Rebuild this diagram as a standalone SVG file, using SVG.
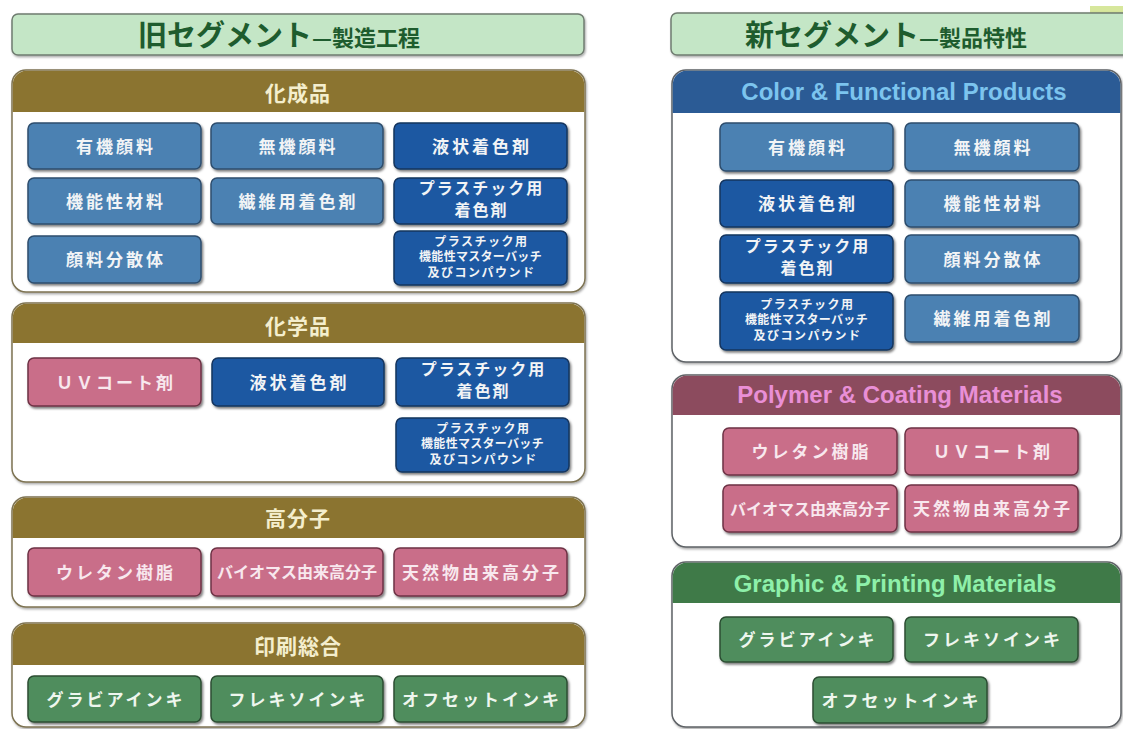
<svg xmlns="http://www.w3.org/2000/svg" width="1123" height="729" viewBox="0 0 1123 729">
<defs>
<filter id="sh" x="-10%" y="-15%" width="125%" height="145%"><feDropShadow dx="1.5" dy="2" stdDeviation="1" flood-color="#000" flood-opacity="0.5"/></filter>
<filter id="psh" x="-5%" y="-5%" width="110%" height="115%"><feDropShadow dx="1" dy="1.5" stdDeviation="1.2" flood-color="#000" flood-opacity="0.35"/></filter>
<style>
.jp{font-family:"Noto Sans CJK JP","Noto Sans CJK SC",sans-serif;font-weight:bold}
.en{font-family:"Liberation Sans",Arial,sans-serif;font-weight:bold}
.title rect{fill:#c4e6c6;stroke:#6f7c70;stroke-width:1.5;filter:url(#psh)}
.title text{fill:#1e5c2e}
.pl .body{fill:#fff;stroke:#7d7352;stroke-width:1.5;filter:url(#psh)}
.pr .body{fill:#fff;stroke:#5e6266;stroke-width:1.5;filter:url(#psh)}
.hb{fill:#8b7430}
.hbl{fill:#2b5b95}
.hpm{fill:#8c4b5e}
.hgr{fill:#3f7a48}
.ht{fill:#f4eecd;font-size:21px;letter-spacing:1px;text-anchor:middle}
.hte{font-size:24px;text-anchor:middle}
.box rect{stroke-width:1.5;filter:url(#sh)}
.box text{fill:#f2f4f6;font-size:17px;letter-spacing:3px;text-anchor:middle}
.steel rect{fill:#4c81b2;stroke:#2d4d6d}
.dark rect{fill:#1e59a2;stroke:#14345e}
.pink rect{fill:#c96e89;stroke:#6e3345}
.pink text{fill:#f8e8ee}
.green rect{fill:#4f8d5d;stroke:#2c4e33}
.green text{fill:#eef6ee}
.box .t2{font-size:16px;letter-spacing:2px}
.box .t3{font-size:12px;letter-spacing:1.5px}
.box .t3c{font-size:12px;letter-spacing:0.3px}
.box .sq{font-size:16px;letter-spacing:0px}
</style>
</defs>

<!-- Left title -->
<g id="title-old" class="title">
<rect x="12" y="14" width="572" height="41" rx="6"/>
<text class="jp" x="138" y="46"><tspan font-size="29">旧セグメント</tspan><tspan font-size="22">—製造工程</tspan></text>
</g>

<!-- Right title -->
<g id="title-new" class="title">
<rect x="1090" y="6" width="40" height="10" style="fill:#d7e79c;stroke:none;filter:none"/>
<rect x="671" y="13" width="470" height="42" rx="6"/>
<text class="jp" x="745" y="46"><tspan font-size="29">新セグメント</tspan><tspan font-size="22">—製品特性</tspan></text>
</g>

<!-- Left panel 1 -->
<g id="panel-kaseihin" class="pl">
<rect class="body" x="12" y="70" width="573" height="222" rx="14"/>
<path class="hb" d="M12.75,112 V84 A14,14 0 0 1 26,70.75 H571 A14,14 0 0 1 584.25,84 V112 Z"/>
<text class="jp ht" x="298" y="101">化成品</text>
</g>
<g id="k-yuki" class="box steel jp"><rect x="28" y="123" width="173" height="46" rx="6"/><text x="116" y="152.5">有機顔料</text></g>
<g id="k-muki" class="box steel jp"><rect x="211" y="123" width="172" height="46" rx="6"/><text x="298.5" y="152.5">無機顔料</text></g>
<g id="k-ekijo" class="box dark jp"><rect x="394" y="123" width="173" height="46" rx="6"/><text x="482" y="152.5">液状着色剤</text></g>
<g id="k-kino" class="box steel jp"><rect x="28" y="178" width="173" height="46" rx="6"/><text x="116" y="207.5">機能性材料</text></g>
<g id="k-seni" class="box steel jp"><rect x="211" y="178" width="172" height="46" rx="6"/><text x="298.5" y="207.5">繊維用着色剤</text></g>
<g id="k-plas" class="box dark jp"><rect x="394" y="178" width="173" height="46" rx="6"/><text class="t2" x="481.5" y="194">プラスチック用</text><text class="t2" x="481.5" y="216">着色剤</text></g>
<g id="k-ganryo" class="box steel jp"><rect x="28" y="236" width="173" height="47" rx="6"/><text x="116" y="266">顔料分散体</text></g>
<g id="k-master" class="box dark jp"><rect x="394" y="231" width="173" height="54" rx="6"/><text class="t3" x="481.5" y="245.5">プラスチック用</text><text class="t3c" x="480.5" y="261">機能性マスターバッチ</text><text class="t3" x="481.5" y="276.5">及びコンパウンド</text></g>

<!-- Left panel 2 -->
<g id="panel-kagakuhin" class="pl">
<rect class="body" x="12" y="303" width="573" height="179" rx="14"/>
<path class="hb" d="M12.75,343 V317 A14,14 0 0 1 26,303.75 H571 A14,14 0 0 1 584.25,317 V343 Z"/>
<text class="jp ht" x="298" y="334">化学品</text>
</g>
<g id="c-uv" class="box pink jp"><rect x="28" y="358" width="173" height="48" rx="6"/><text x="116" y="388.5">ＵＶコート剤</text></g>
<g id="c-ekijo" class="box dark jp"><rect x="212" y="358" width="172" height="48" rx="6"/><text x="299.5" y="388.5">液状着色剤</text></g>
<g id="c-plas" class="box dark jp"><rect x="396" y="358" width="173" height="48" rx="6"/><text class="t2" x="483.5" y="375">プラスチック用</text><text class="t2" x="483.5" y="397">着色剤</text></g>
<g id="c-master" class="box dark jp"><rect x="396" y="418" width="173" height="54" rx="6"/><text class="t3" x="483.5" y="432.5">プラスチック用</text><text class="t3c" x="482.5" y="448">機能性マスターバッチ</text><text class="t3" x="483.5" y="463.5">及びコンパウンド</text></g>

<!-- Left panel 3 -->
<g id="panel-kobunshi" class="pl">
<rect class="body" x="12" y="497" width="573" height="110" rx="14"/>
<path class="hb" d="M12.75,538 V511 A14,14 0 0 1 26,497.75 H571 A14,14 0 0 1 584.25,511 V538 Z"/>
<text class="jp ht" x="298" y="525.5">高分子</text>
</g>
<g id="p-uretan" class="box pink jp"><rect x="28" y="548" width="173" height="48" rx="6"/><text x="116" y="578.5">ウレタン樹脂</text></g>
<g id="p-bio" class="box pink jp"><rect x="211" y="548" width="172" height="48" rx="6"/><text class="sq" x="297" y="578">バイオマス由来高分子</text></g>
<g id="p-tennen" class="box pink jp"><rect x="394" y="548" width="173" height="48" rx="6"/><text x="482" y="578.5">天然物由来高分子</text></g>

<!-- Left panel 4 -->
<g id="panel-insatsu" class="pl">
<rect class="body" x="12" y="623" width="573" height="104" rx="14"/>
<path class="hb" d="M12.75,665 V637 A14,14 0 0 1 26,623.75 H571 A14,14 0 0 1 584.25,637 V665 Z"/>
<text class="jp ht" x="298" y="653.5">印刷総合</text>
</g>
<g id="i-gravure" class="box green jp"><rect x="28" y="676" width="173" height="46" rx="6"/><text x="116" y="705.5">グラビアインキ</text></g>
<g id="i-flexo" class="box green jp"><rect x="211" y="676" width="172" height="46" rx="6"/><text x="298.5" y="705.5">フレキソインキ</text></g>
<g id="i-offset" class="box green jp"><rect x="394" y="676" width="173" height="46" rx="6"/><text x="482" y="705.5">オフセットインキ</text></g>

<!-- Right panel 1 -->
<g id="panel-color" class="pr">
<rect class="body" x="672" y="70" width="449" height="292" rx="14"/>
<path class="hbl" d="M672.75,113 V84 A14,14 0 0 1 686,70.75 H1107 A14,14 0 0 1 1120.25,84 V113 Z"/>
<text class="en hte" x="904" y="100" fill="#7cc4ee">Color &amp; Functional Products</text>
</g>
<g id="n-yuki" class="box steel jp"><rect x="720" y="123" width="173" height="48" rx="6"/><text x="808" y="153.5">有機顔料</text></g>
<g id="n-muki" class="box steel jp"><rect x="905" y="123" width="174" height="48" rx="6"/><text x="993.5" y="153.5">無機顔料</text></g>
<g id="n-ekijo" class="box dark jp"><rect x="720" y="180" width="173" height="47" rx="6"/><text x="808" y="210">液状着色剤</text></g>
<g id="n-kino" class="box steel jp"><rect x="905" y="180" width="174" height="47" rx="6"/><text x="993.5" y="210">機能性材料</text></g>
<g id="n-plas" class="box dark jp"><rect x="720" y="235" width="173" height="48" rx="6"/><text class="t2" x="807.5" y="252">プラスチック用</text><text class="t2" x="807.5" y="274">着色剤</text></g>
<g id="n-ganryo" class="box steel jp"><rect x="905" y="235" width="174" height="48" rx="6"/><text x="993.5" y="265.5">顔料分散体</text></g>
<g id="n-master" class="box dark jp"><rect x="720" y="292" width="173" height="58" rx="6"/><text class="t3" x="807.5" y="308.5">プラスチック用</text><text class="t3c" x="806.5" y="324">機能性マスターバッチ</text><text class="t3" x="807.5" y="339.5">及びコンパウンド</text></g>
<g id="n-seni" class="box steel jp"><rect x="905" y="295" width="174" height="47" rx="6"/><text x="993.5" y="325">繊維用着色剤</text></g>

<!-- Right panel 2 -->
<g id="panel-polymer" class="pr">
<rect class="body" x="672" y="375" width="449" height="172" rx="14"/>
<path class="hpm" d="M672.75,415 V389 A14,14 0 0 1 686,375.75 H1107 A14,14 0 0 1 1120.25,389 V415 Z"/>
<text class="en hte" x="900" y="403" fill="#e98fd6">Polymer &amp; Coating Materials</text>
</g>
<g id="n-uretan" class="box pink jp"><rect x="723" y="428" width="174" height="47" rx="6"/><text x="811.5" y="458">ウレタン樹脂</text></g>
<g id="n-uv" class="box pink jp"><rect x="905" y="428" width="173" height="47" rx="6"/><text x="993" y="458">ＵＶコート剤</text></g>
<g id="n-bio" class="box pink jp"><rect x="723" y="485" width="174" height="47" rx="6"/><text class="sq" x="810" y="514.5">バイオマス由来高分子</text></g>
<g id="n-tennen" class="box pink jp"><rect x="905" y="485" width="173" height="47" rx="6"/><text x="993" y="515">天然物由来高分子</text></g>

<!-- Right panel 3 -->
<g id="panel-graphic" class="pr">
<rect class="body" x="672" y="562" width="449" height="165" rx="14"/>
<path class="hgr" d="M672.75,603 V576 A14,14 0 0 1 686,562.75 H1107 A14,14 0 0 1 1120.25,576 V603 Z"/>
<text class="en hte" x="895" y="592" fill="#8ef0aa">Graphic &amp; Printing Materials</text>
</g>
<g id="n-gravure" class="box green jp"><rect x="720" y="617" width="173" height="45" rx="6"/><text x="808" y="646">グラビアインキ</text></g>
<g id="n-flexo" class="box green jp"><rect x="905" y="617" width="173" height="45" rx="6"/><text x="993" y="646">フレキソインキ</text></g>
<g id="n-offset" class="box green jp"><rect x="813" y="677" width="174" height="46" rx="6"/><text x="901.5" y="706.5">オフセットインキ</text></g>

<g id="connectors"></g>
</svg>
